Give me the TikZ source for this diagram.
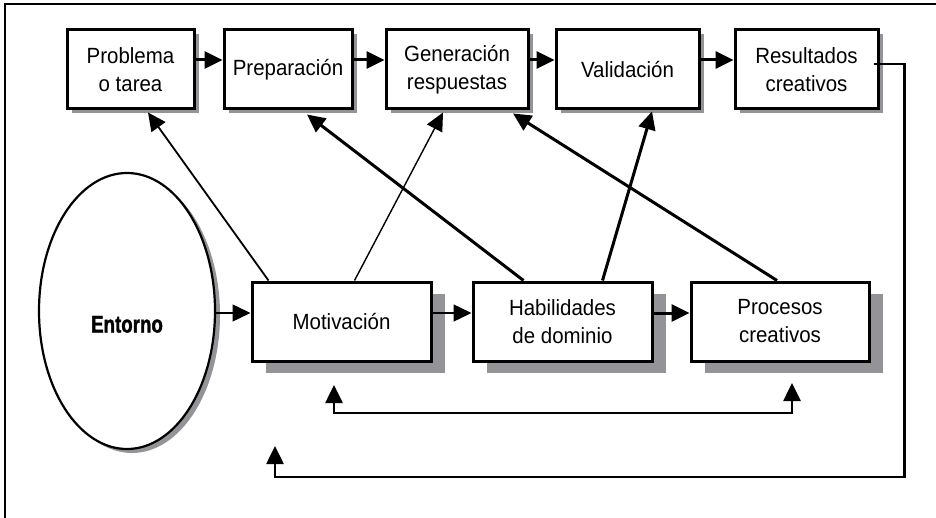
\documentclass[tikz,border=0pt]{standalone}
\usepackage{fontspec}
\setmainfont[FakeStretch=0.93]{Liberation Sans}
\newfontfamily\entornofont[FakeStretch=0.78,FakeBold=1.5]{Liberation Sans}
\usetikzlibrary{%
  arrows.meta,%
  shapes.geometric,% wg. ellipse
  shadows,%
  positioning,%
  calc
}
\definecolor{shadowgray}{RGB}{148,148,152}

\begin{document}
\begin{tikzpicture}
  [
  x=0.5pt, y=-0.5pt,
  font=\fontsize{11}{14}\selectfont, draw=black, >={Triangle[length=9pt,width=8.5pt]}, line width=1.5pt,
  stage/.style={rectangle, minimum height=39.5pt, minimum width=64pt, draw=black, fill=white, align=center, line width=1.5pt, drop shadow={shadow xshift=2.5pt, shadow yshift=-2pt, fill=shadowgray, opacity=1}},
  factor/.style={rectangle, minimum height=39.5pt, minimum width=89.5pt, draw=black, fill=white, align=center, line width=1.5pt, drop shadow={shadow xshift=7pt, shadow yshift=-6pt, fill=shadowgray, opacity=1}},
  context/.style={ellipse, minimum width=88pt, minimum height=138pt, draw=black, fill=white, line width=1.1pt, text height=21.5pt, text depth=0pt, font=\fontsize{12}{14}\entornofont\bfseries, drop shadow={shadow xshift=2.5pt, shadow yshift=-2pt, fill=shadowgray, opacity=1}},
  thinlink/.style={line width=0.7pt},
  loop/.style={line width=1.3pt}
  ]

\useasboundingbox (0,0) rectangle (936,518);
\draw[line width=1pt] (5,540) -- (5,4) -- (950,4);

\node[stage, minimum width=63.5pt] (prob) at (130.5,69.5) {Problema\\o tarea};
\node[stage] (prep) at (288,69.5) {Preparación};
\node[stage, minimum width=71pt] (gen) at (457,69.5) {Generación\\respuestas};
\node[stage, minimum width=71.5pt] (val) at (627.5,69.5) {Validación};
\node[stage, minimum width=71.5pt] (res) at (806.5,69.5) {Resultados\\creativos};

\foreach \a/\b in {prob/prep, prep/gen, gen/val, val/res} {
  \draw[->] ([yshift=4.75pt]\a.east) -- ([yshift=4.75pt]\b.west);
}

\node[context] (ent) at (127,311) {Entorno};
\node[factor] (mot) at (341.5,321.5) {Motivación};
\node[factor] (hab) at (562.5,321.5) {Habilidades\\de dominio};
\node[factor, minimum width=89pt] (proc) at (780,321.5) {Procesos\\creativos};

\draw[->,thinlink] ([yshift=-1pt]ent.east) -- ([yshift=-1pt]ent.east -| mot.west);
\draw[->,thinlink] ([yshift=4.25pt]mot.east) -- ([yshift=4.25pt]hab.west);
\draw[->] ([yshift=4.25pt]hab.east) -- ([yshift=4.25pt]proc.west);

\draw[->,line width=0.9pt] ([xshift=9pt]mot.north west) -- ([xshift=8.75pt,yshift=-1pt]prob.south);
\draw[->,thinlink] ([xshift=52pt]mot.north west) -- ([xshift=-7pt,yshift=-1pt]gen.south);
\draw[->] ([xshift=26pt]hab.north west) -- ([xshift=9.5pt,yshift=-2pt]prep.south);
\draw[->] ([xshift=65.5pt]hab.north west) -- ([xshift=12.25pt,yshift=-0.5pt]val.south);
\draw[->] ([xshift=-1.5pt]proc.north) -- ([xshift=28pt,yshift=-1.5pt]gen.south);

\coordinate (motfb) at (334,385);
\coordinate (procfb) at (792,383);
\draw[<->,loop] (motfb) -- ++(0,28) -| (procfb);

\coordinate (resfb) at (275,446);
\draw[->,loop] ([xshift=-3pt,yshift=2.75pt]res.east) -- ++(31,0) -- ++(0,413) -| (resfb);

\end{tikzpicture}
\end{document}
